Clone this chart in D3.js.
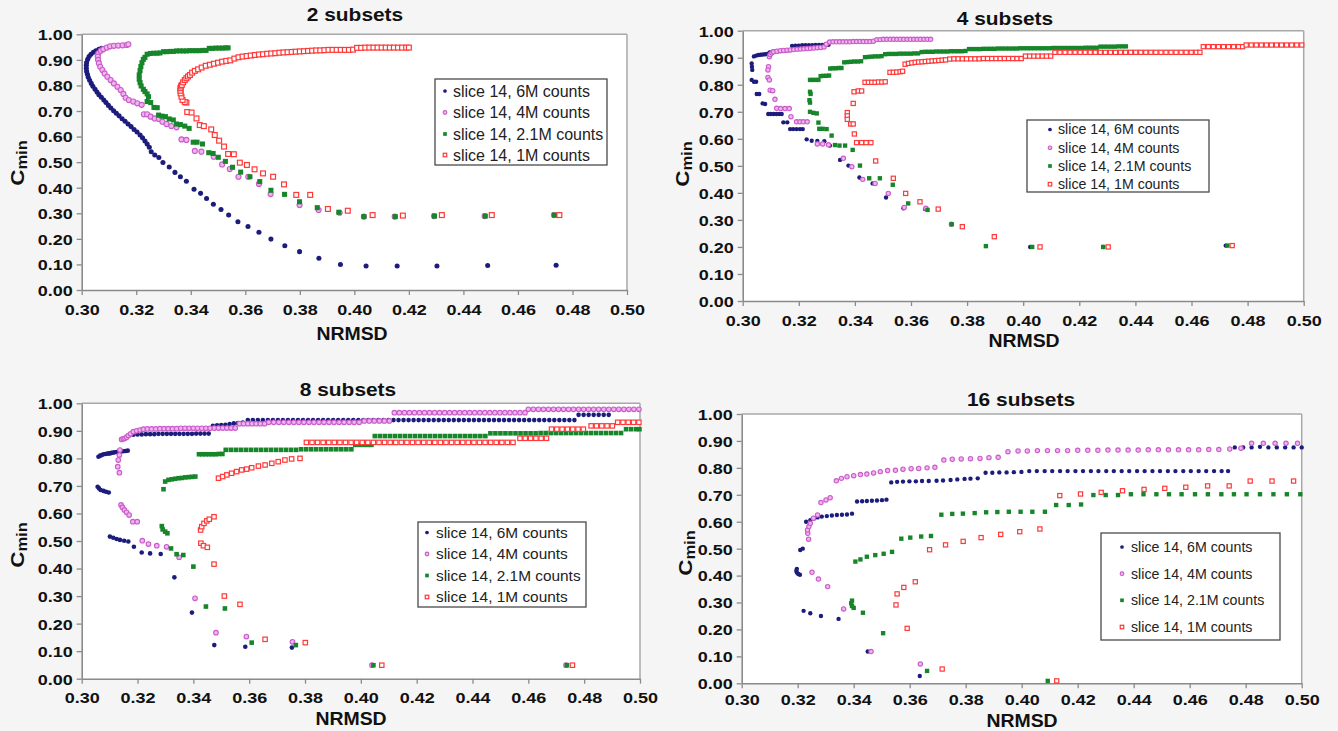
<!DOCTYPE html>
<html><head><meta charset="utf-8">
<script src="https://cdn.jsdelivr.net/npm/d3@7/dist/d3.min.js"></script>
<style>body{margin:0;background:#f5f5f5}svg{display:block}</style>
</head><body><svg id="c" width="1338" height="731"></svg>
<script>
const titles = ["2 subsets", "4 subsets", "8 subsets", "16 subsets"];
const seriesNames = ["slice 14, 6M counts", "slice 14, 4M counts", "slice 14, 2.1M counts", "slice 14, 1M counts"];
const xTickValues = [0.30,0.32,0.34,0.36,0.38,0.40,0.42,0.44,0.46,0.48,0.50];
const yTickValues = [0.0,0.1,0.2,0.3,0.4,0.5,0.6,0.7,0.8,0.9,1.0];
const xLabel = "NRMSD";

// ---------- 2 subsets ----------
const p1_6M = [[0.3073,0.945],[0.3063,0.941],[0.3052,0.936],[0.3043,0.930],[0.3034,0.922],[0.3027,0.913],[0.3022,0.902],[0.3018,0.890],[0.3017,0.879],[0.3017,0.867],[0.3018,0.855],[0.3021,0.844],[0.3024,0.832],[0.3029,0.820],[0.3035,0.808],[0.3041,0.797],[0.3049,0.785],[0.3056,0.774],[0.3063,0.764],[0.3072,0.754],[0.3081,0.743],[0.3089,0.733],[0.3098,0.722],[0.3107,0.712],[0.3117,0.701],[0.3127,0.691],[0.3137,0.681],[0.3148,0.670],[0.3159,0.660],[0.3170,0.649],[0.3181,0.639],[0.3192,0.628],[0.3203,0.618],[0.3214,0.606],[0.3223,0.595],[0.3232,0.583],[0.3240,0.571],[0.3248,0.558],[0.3255,0.541],[0.3268,0.528],[0.3283,0.518],[0.3298,0.499],[0.3321,0.481],[0.3342,0.460],[0.3362,0.443],[0.3384,0.425],[0.3412,0.394],[0.3436,0.378],[0.3458,0.358],[0.3483,0.335],[0.3511,0.315],[0.3539,0.293],[0.3573,0.267],[0.3610,0.248],[0.3650,0.226],[0.3694,0.199],[0.3745,0.173],[0.3799,0.150],[0.3870,0.124],[0.3949,0.100],[0.4043,0.094],[0.4157,0.094],[0.4303,0.094],[0.4489,0.096],[0.4740,0.097]];
const p1_4M = [[0.3061,0.926],[0.3070,0.936],[0.3079,0.942],[0.3092,0.948],[0.3104,0.953],[0.3118,0.955],[0.3134,0.956],[0.3150,0.957],[0.3165,0.958],[0.3171,0.961],[0.3059,0.913],[0.3060,0.900],[0.3063,0.887],[0.3068,0.873],[0.3076,0.860],[0.3084,0.847],[0.3094,0.834],[0.3106,0.821],[0.3118,0.808],[0.3131,0.795],[0.3143,0.782],[0.3153,0.767],[0.3161,0.752],[0.3173,0.743],[0.3189,0.737],[0.3204,0.730],[0.3220,0.724],[0.3228,0.687],[0.3240,0.687],[0.3253,0.678],[0.3268,0.671],[0.3283,0.669],[0.3296,0.658],[0.3311,0.649],[0.3329,0.641],[0.3348,0.636],[0.3366,0.589],[0.3384,0.587],[0.3415,0.544],[0.3439,0.541],[0.3484,0.521],[0.3515,0.491],[0.3543,0.473],[0.3575,0.443],[0.3611,0.443],[0.3650,0.415],[0.3693,0.375],[0.3799,0.332],[0.3869,0.313],[0.3946,0.302],[0.4035,0.287],[0.4148,0.287],[0.4292,0.289],[0.4478,0.289],[0.4732,0.293]];
const p1_21M = [[0.3240,0.922],[0.3252,0.925],[0.3264,0.926],[0.3276,0.926],[0.3287,0.927],[0.3300,0.932],[0.3312,0.932],[0.3324,0.933],[0.3336,0.933],[0.3348,0.935],[0.3360,0.935],[0.3372,0.935],[0.3384,0.935],[0.3396,0.936],[0.3408,0.936],[0.3420,0.936],[0.3432,0.936],[0.3444,0.937],[0.3456,0.937],[0.3468,0.945],[0.3480,0.945],[0.3492,0.946],[0.3504,0.946],[0.3516,0.946],[0.3528,0.947],[0.3537,0.947],[0.3232,0.910],[0.3226,0.902],[0.3221,0.889],[0.3217,0.874],[0.3214,0.858],[0.3211,0.841],[0.3211,0.824],[0.3214,0.811],[0.3218,0.798],[0.3226,0.785],[0.3232,0.776],[0.3240,0.767],[0.3245,0.756],[0.3240,0.737],[0.3253,0.733],[0.3265,0.714],[0.3277,0.713],[0.3282,0.684],[0.3294,0.680],[0.3307,0.678],[0.3321,0.669],[0.3336,0.665],[0.3348,0.649],[0.3362,0.647],[0.3378,0.641],[0.3394,0.632],[0.3409,0.578],[0.3423,0.578],[0.3443,0.571],[0.3466,0.537],[0.3482,0.534],[0.3501,0.519],[0.3527,0.503],[0.3553,0.480],[0.3583,0.461],[0.3617,0.443],[0.3653,0.424],[0.3694,0.390],[0.3744,0.374],[0.3799,0.345],[0.3864,0.322],[0.3943,0.304],[0.4035,0.287],[0.4150,0.287],[0.4294,0.289],[0.4480,0.289],[0.4734,0.293]];
const p1_1M = [[0.3384,0.733],[0.3378,0.735],[0.3370,0.743],[0.3366,0.756],[0.3363,0.769],[0.3362,0.779],[0.3362,0.789],[0.3364,0.796],[0.3367,0.802],[0.3372,0.812],[0.3378,0.821],[0.3384,0.828],[0.3390,0.835],[0.3397,0.841],[0.3405,0.850],[0.3415,0.857],[0.3427,0.863],[0.3440,0.870],[0.3455,0.877],[0.3470,0.881],[0.3485,0.885],[0.3500,0.889],[0.3515,0.893],[0.3530,0.896],[0.3545,0.898],[0.3560,0.905],[0.3575,0.910],[0.3590,0.913],[0.3605,0.915],[0.3620,0.917],[0.3635,0.919],[0.3650,0.921],[0.3665,0.922],[0.3680,0.924],[0.3695,0.925],[0.3710,0.926],[0.3725,0.928],[0.3740,0.929],[0.3755,0.930],[0.3770,0.931],[0.3785,0.932],[0.3800,0.933],[0.3815,0.934],[0.3830,0.935],[0.3845,0.936],[0.3860,0.937],[0.3875,0.937],[0.3890,0.938],[0.3905,0.939],[0.3920,0.939],[0.3935,0.939],[0.3950,0.939],[0.3965,0.939],[0.3980,0.939],[0.3995,0.940],[0.4010,0.947],[0.4025,0.947],[0.4040,0.948],[0.4055,0.948],[0.4070,0.948],[0.4085,0.948],[0.4100,0.948],[0.4115,0.948],[0.4130,0.948],[0.4145,0.948],[0.4160,0.948],[0.4175,0.948],[0.4190,0.948],[0.4200,0.948],[0.3387,0.696],[0.3403,0.694],[0.3421,0.671],[0.3433,0.645],[0.3448,0.641],[0.3475,0.628],[0.3488,0.606],[0.3504,0.584],[0.3522,0.561],[0.3537,0.532],[0.3558,0.531],[0.3580,0.498],[0.3606,0.489],[0.3634,0.472],[0.3665,0.456],[0.3702,0.443],[0.3742,0.413],[0.3787,0.372],[0.3838,0.372],[0.3903,0.317],[0.3976,0.310],[0.4067,0.293],[0.4178,0.291],[0.4321,0.293],[0.4504,0.293],[0.4752,0.293]];

// ---------- 4 subsets ----------
const p2_6M = [[0.3040,0.905],[0.3048,0.908],[0.3056,0.910],[0.3064,0.911],[0.3072,0.912],[0.3080,0.913],[0.3088,0.914],[0.3096,0.920],[0.3106,0.922],[0.3116,0.923],[0.3126,0.924],[0.3136,0.925],[0.3146,0.926],[0.3156,0.927],[0.3166,0.928],[0.3176,0.944],[0.3188,0.945],[0.3200,0.945],[0.3212,0.946],[0.3224,0.946],[0.3236,0.946],[0.3248,0.946],[0.3260,0.947],[0.3272,0.947],[0.3284,0.947],[0.3296,0.948],[0.3306,0.948],[0.3032,0.879],[0.3033,0.867],[0.3034,0.855],[0.3032,0.818],[0.3040,0.811],[0.3048,0.811],[0.3050,0.766],[0.3059,0.766],[0.3071,0.731],[0.3080,0.729],[0.3091,0.692],[0.3100,0.692],[0.3110,0.692],[0.3120,0.692],[0.3130,0.692],[0.3139,0.692],[0.3145,0.661],[0.3159,0.661],[0.3169,0.636],[0.3180,0.636],[0.3192,0.636],[0.3204,0.636],[0.3214,0.636],[0.3228,0.598],[0.3246,0.593],[0.3266,0.592],[0.3291,0.591],[0.3311,0.575],[0.3347,0.522],[0.3377,0.501],[0.3416,0.457],[0.3463,0.435],[0.3511,0.383],[0.3573,0.343],[0.3650,0.340],[0.4025,0.200],[0.4285,0.200],[0.4722,0.205]];
const p2_4M = [[0.3095,0.904],[0.3098,0.912],[0.3104,0.918],[0.3110,0.922],[0.3122,0.924],[0.3134,0.926],[0.3146,0.927],[0.3158,0.928],[0.3170,0.929],[0.3182,0.930],[0.3194,0.931],[0.3206,0.932],[0.3218,0.933],[0.3230,0.934],[0.3242,0.935],[0.3254,0.936],[0.3266,0.937],[0.3278,0.938],[0.3290,0.940],[0.3298,0.950],[0.3310,0.958],[0.3322,0.959],[0.3334,0.959],[0.3346,0.959],[0.3358,0.959],[0.3370,0.959],[0.3382,0.959],[0.3394,0.960],[0.3406,0.960],[0.3418,0.960],[0.3430,0.960],[0.3442,0.960],[0.3454,0.960],[0.3466,0.961],[0.3478,0.967],[0.3490,0.967],[0.3502,0.968],[0.3514,0.968],[0.3526,0.968],[0.3538,0.968],[0.3550,0.968],[0.3562,0.968],[0.3574,0.968],[0.3586,0.968],[0.3598,0.968],[0.3610,0.968],[0.3622,0.968],[0.3634,0.968],[0.3646,0.968],[0.3658,0.968],[0.3670,0.968],[0.3092,0.867],[0.3090,0.855],[0.3090,0.827],[0.3095,0.818],[0.3098,0.780],[0.3107,0.778],[0.3115,0.746],[0.3121,0.713],[0.3135,0.712],[0.3151,0.712],[0.3166,0.712],[0.3172,0.682],[0.3192,0.663],[0.3204,0.663],[0.3216,0.663],[0.3230,0.663],[0.3266,0.581],[0.3285,0.581],[0.3306,0.578],[0.3359,0.528],[0.3389,0.497],[0.3428,0.450],[0.3472,0.435],[0.3519,0.398],[0.3576,0.346],[0.3653,0.343],[0.3744,0.284]];
const p2_21M = [[0.3240,0.818],[0.3250,0.818],[0.3260,0.818],[0.3270,0.818],[0.3278,0.832],[0.3288,0.833],[0.3298,0.833],[0.3308,0.834],[0.3312,0.860],[0.3322,0.861],[0.3332,0.861],[0.3342,0.862],[0.3352,0.862],[0.3362,0.883],[0.3374,0.884],[0.3386,0.885],[0.3398,0.886],[0.3410,0.886],[0.3422,0.887],[0.3436,0.902],[0.3448,0.903],[0.3460,0.904],[0.3472,0.905],[0.3484,0.905],[0.3495,0.906],[0.3508,0.913],[0.3521,0.914],[0.3534,0.914],[0.3547,0.914],[0.3560,0.915],[0.3573,0.915],[0.3586,0.915],[0.3599,0.915],[0.3612,0.916],[0.3625,0.916],[0.3638,0.921],[0.3651,0.922],[0.3664,0.922],[0.3677,0.922],[0.3690,0.923],[0.3703,0.923],[0.3716,0.923],[0.3729,0.923],[0.3742,0.924],[0.3755,0.924],[0.3768,0.924],[0.3781,0.924],[0.3794,0.925],[0.3807,0.932],[0.3820,0.932],[0.3833,0.932],[0.3846,0.932],[0.3859,0.933],[0.3872,0.933],[0.3885,0.933],[0.3898,0.933],[0.3911,0.934],[0.3924,0.934],[0.3937,0.934],[0.3950,0.934],[0.3963,0.934],[0.3976,0.934],[0.3989,0.935],[0.4002,0.935],[0.4015,0.935],[0.4028,0.935],[0.4041,0.935],[0.4054,0.935],[0.4067,0.935],[0.4080,0.935],[0.4093,0.935],[0.4106,0.936],[0.4119,0.936],[0.4132,0.936],[0.4145,0.936],[0.4158,0.936],[0.4171,0.936],[0.4184,0.936],[0.4197,0.936],[0.4210,0.936],[0.4223,0.937],[0.4236,0.937],[0.4249,0.937],[0.4262,0.937],[0.4275,0.941],[0.4288,0.941],[0.4301,0.941],[0.4314,0.941],[0.4327,0.941],[0.4340,0.942],[0.4353,0.942],[0.4366,0.942],[0.3240,0.774],[0.3242,0.766],[0.3238,0.743],[0.3240,0.734],[0.3240,0.700],[0.3252,0.696],[0.3264,0.694],[0.3270,0.660],[0.3273,0.637],[0.3285,0.637],[0.3299,0.636],[0.3317,0.612],[0.3329,0.577],[0.3345,0.575],[0.3365,0.575],[0.3392,0.559],[0.3418,0.501],[0.3451,0.454],[0.3489,0.454],[0.3535,0.430],[0.3590,0.361],[0.3659,0.337],[0.3745,0.284],[0.3867,0.203],[0.4032,0.200],[0.4285,0.200],[0.4728,0.205]];
const p2_1M = [[0.3373,0.697],[0.3373,0.685],[0.3373,0.672],[0.3385,0.655],[0.3394,0.655],[0.3398,0.618],[0.3394,0.731],[0.3397,0.774],[0.3412,0.777],[0.3424,0.777],[0.3436,0.809],[0.3448,0.809],[0.3460,0.809],[0.3472,0.809],[0.3484,0.810],[0.3496,0.810],[0.3508,0.811],[0.3525,0.846],[0.3537,0.846],[0.3549,0.847],[0.3561,0.848],[0.3570,0.850],[0.3579,0.876],[0.3591,0.879],[0.3603,0.881],[0.3615,0.883],[0.3627,0.884],[0.3639,0.885],[0.3651,0.886],[0.3663,0.887],[0.3675,0.888],[0.3687,0.889],[0.3699,0.890],[0.3711,0.891],[0.3723,0.892],[0.3738,0.895],[0.3753,0.896],[0.3768,0.896],[0.3783,0.896],[0.3798,0.896],[0.3813,0.896],[0.3828,0.896],[0.3843,0.896],[0.3858,0.897],[0.3873,0.897],[0.3888,0.897],[0.3903,0.897],[0.3918,0.897],[0.3933,0.897],[0.3948,0.897],[0.3963,0.897],[0.3978,0.897],[0.3993,0.897],[0.4008,0.906],[0.4023,0.906],[0.4038,0.906],[0.4053,0.906],[0.4068,0.906],[0.4083,0.906],[0.4098,0.906],[0.4113,0.920],[0.4131,0.920],[0.4149,0.920],[0.4167,0.920],[0.4185,0.920],[0.4203,0.920],[0.4221,0.920],[0.4239,0.920],[0.4257,0.920],[0.4275,0.920],[0.4293,0.920],[0.4311,0.920],[0.4329,0.920],[0.4347,0.920],[0.4365,0.920],[0.4383,0.920],[0.4401,0.920],[0.4419,0.920],[0.4437,0.920],[0.4455,0.920],[0.4473,0.920],[0.4491,0.920],[0.4509,0.920],[0.4527,0.920],[0.4545,0.920],[0.4563,0.920],[0.4581,0.920],[0.4599,0.920],[0.4617,0.920],[0.4630,0.920],[0.4642,0.941],[0.4660,0.941],[0.4678,0.941],[0.4696,0.941],[0.4714,0.941],[0.4732,0.941],[0.4750,0.941],[0.4768,0.941],[0.4782,0.941],[0.4795,0.947],[0.4813,0.947],[0.4831,0.947],[0.4849,0.947],[0.4867,0.947],[0.4885,0.947],[0.4903,0.947],[0.4921,0.947],[0.4939,0.947],[0.4957,0.947],[0.4975,0.947],[0.4993,0.947],[0.3406,0.586],[0.3424,0.586],[0.3440,0.586],[0.3457,0.586],[0.3474,0.518],[0.3537,0.454],[0.3581,0.398],[0.3632,0.367],[0.3697,0.340],[0.3783,0.275],[0.3897,0.238],[0.4060,0.200],[0.4303,0.200],[0.4745,0.205]];

// ---------- 8 subsets ----------
const p3_6M = [[0.3060,0.806],[0.3066,0.810],[0.3072,0.812],[0.3078,0.815],[0.3084,0.816],[0.3090,0.817],[0.3096,0.818],[0.3101,0.818],[0.3107,0.820],[0.3113,0.821],[0.3119,0.822],[0.3125,0.823],[0.3131,0.824],[0.3137,0.825],[0.3143,0.826],[0.3149,0.826],[0.3157,0.827],[0.3165,0.828],[0.3057,0.697],[0.3062,0.691],[0.3068,0.685],[0.3078,0.682],[0.3087,0.679],[0.3097,0.676],[0.3101,0.516],[0.3113,0.512],[0.3125,0.507],[0.3137,0.504],[0.3152,0.501],[0.3167,0.498],[0.3187,0.479],[0.3215,0.458],[0.3245,0.455],[0.3283,0.453],[0.3332,0.368],[0.3395,0.240],[0.3475,0.122],[0.3586,0.116],[0.3753,0.113],[0.4040,0.049],[0.4735,0.049],[0.3170,0.884],[0.3185,0.886],[0.3200,0.887],[0.3215,0.887],[0.3230,0.888],[0.3245,0.888],[0.3260,0.888],[0.3275,0.889],[0.3290,0.889],[0.3305,0.889],[0.3320,0.889],[0.3335,0.889],[0.3350,0.889],[0.3365,0.889],[0.3380,0.889],[0.3395,0.889],[0.3410,0.890],[0.3425,0.890],[0.3440,0.890],[0.3455,0.890],[0.3470,0.918],[0.3485,0.920],[0.3500,0.921],[0.3515,0.922],[0.3530,0.925],[0.3545,0.927],[0.3560,0.928],[0.3577,0.930],[0.3595,0.939],[0.3613,0.939],[0.3631,0.939],[0.3649,0.939],[0.3667,0.939],[0.3685,0.939],[0.3703,0.939],[0.3721,0.939],[0.3739,0.939],[0.3757,0.939],[0.3775,0.939],[0.3793,0.939],[0.3811,0.939],[0.3829,0.939],[0.3847,0.939],[0.3865,0.939],[0.3883,0.939],[0.3901,0.939],[0.3919,0.939],[0.3937,0.939],[0.3955,0.939],[0.3973,0.939],[0.3991,0.939],[0.4009,0.939],[0.4027,0.939],[0.4045,0.939],[0.4063,0.939],[0.4081,0.939],[0.4099,0.939],[0.4117,0.939],[0.4135,0.939],[0.4153,0.939],[0.4171,0.939],[0.4189,0.939],[0.4207,0.939],[0.4225,0.939],[0.4243,0.939],[0.4261,0.939],[0.4279,0.939],[0.4297,0.939],[0.4315,0.939],[0.4333,0.939],[0.4351,0.939],[0.4369,0.939],[0.4387,0.939],[0.4405,0.939],[0.4423,0.939],[0.4441,0.939],[0.4459,0.939],[0.4477,0.939],[0.4495,0.939],[0.4513,0.939],[0.4531,0.939],[0.4549,0.939],[0.4567,0.939],[0.4585,0.939],[0.4603,0.939],[0.4621,0.939],[0.4639,0.939],[0.4657,0.939],[0.4675,0.939],[0.4693,0.939],[0.4711,0.939],[0.4729,0.939],[0.4747,0.939],[0.4765,0.939],[0.4780,0.958],[0.4798,0.958],[0.4816,0.958],[0.4834,0.958],[0.4852,0.958],[0.4870,0.958],[0.4888,0.958]];
const p3_4M = [[0.3143,0.869],[0.3149,0.871],[0.3155,0.873],[0.3161,0.877],[0.3167,0.883],[0.3175,0.889],[0.3185,0.897],[0.3197,0.900],[0.3209,0.903],[0.3221,0.906],[0.3235,0.907],[0.3250,0.907],[0.3265,0.907],[0.3280,0.908],[0.3295,0.908],[0.3310,0.908],[0.3325,0.908],[0.3340,0.908],[0.3355,0.909],[0.3370,0.909],[0.3385,0.909],[0.3400,0.909],[0.3415,0.909],[0.3430,0.909],[0.3445,0.909],[0.3460,0.909],[0.3475,0.910],[0.3490,0.910],[0.3505,0.910],[0.3520,0.910],[0.3535,0.910],[0.3550,0.910],[0.3565,0.926],[0.3580,0.926],[0.3595,0.926],[0.3610,0.926],[0.3625,0.926],[0.3640,0.926],[0.3655,0.926],[0.3670,0.931],[0.3688,0.931],[0.3706,0.931],[0.3724,0.931],[0.3742,0.931],[0.3760,0.931],[0.3778,0.931],[0.3796,0.931],[0.3814,0.931],[0.3832,0.931],[0.3850,0.931],[0.3868,0.931],[0.3886,0.931],[0.3904,0.931],[0.3922,0.931],[0.3940,0.931],[0.3958,0.931],[0.3976,0.931],[0.3994,0.931],[0.4012,0.936],[0.4030,0.936],[0.4048,0.936],[0.4066,0.936],[0.4084,0.936],[0.4102,0.936],[0.4120,0.966],[0.4138,0.966],[0.4156,0.966],[0.4174,0.966],[0.4192,0.966],[0.4210,0.966],[0.4228,0.966],[0.4246,0.966],[0.4264,0.966],[0.4282,0.966],[0.4300,0.966],[0.4318,0.966],[0.4336,0.966],[0.4354,0.966],[0.4372,0.966],[0.4390,0.966],[0.4408,0.966],[0.4426,0.966],[0.4444,0.966],[0.4462,0.966],[0.4480,0.966],[0.4498,0.966],[0.4516,0.966],[0.4534,0.966],[0.4552,0.966],[0.4570,0.966],[0.4588,0.966],[0.4600,0.978],[0.4618,0.978],[0.4636,0.978],[0.4654,0.978],[0.4672,0.978],[0.4690,0.978],[0.4708,0.978],[0.4726,0.978],[0.4744,0.978],[0.4762,0.978],[0.4780,0.978],[0.4798,0.978],[0.4816,0.978],[0.4834,0.978],[0.4852,0.978],[0.4870,0.978],[0.4888,0.978],[0.4906,0.978],[0.4924,0.978],[0.4942,0.978],[0.4960,0.978],[0.4978,0.978],[0.4996,0.978],[0.3137,0.830],[0.3135,0.812],[0.3131,0.794],[0.3129,0.770],[0.3135,0.748],[0.3141,0.631],[0.3146,0.622],[0.3153,0.613],[0.3161,0.604],[0.3170,0.594],[0.3183,0.570],[0.3199,0.570],[0.3217,0.501],[0.3239,0.489],[0.3269,0.483],[0.3304,0.479],[0.3349,0.441],[0.3406,0.292],[0.3481,0.167],[0.3590,0.153],[0.3755,0.134],[0.4040,0.049],[0.4735,0.049]];
const p3_21M = [[0.3293,0.688],[0.3299,0.716],[0.3311,0.722],[0.3323,0.724],[0.3335,0.726],[0.3347,0.728],[0.3359,0.729],[0.3371,0.731],[0.3383,0.732],[0.3395,0.733],[0.3407,0.734],[0.3420,0.815],[0.3432,0.815],[0.3444,0.815],[0.3456,0.815],[0.3468,0.815],[0.3480,0.815],[0.3492,0.816],[0.3504,0.816],[0.3516,0.831],[0.3534,0.831],[0.3552,0.831],[0.3570,0.831],[0.3588,0.831],[0.3606,0.831],[0.3624,0.831],[0.3642,0.831],[0.3660,0.831],[0.3678,0.831],[0.3696,0.831],[0.3714,0.831],[0.3732,0.831],[0.3750,0.831],[0.3768,0.831],[0.3786,0.833],[0.3804,0.833],[0.3822,0.833],[0.3840,0.833],[0.3858,0.833],[0.3876,0.833],[0.3894,0.833],[0.3912,0.833],[0.3930,0.833],[0.3948,0.833],[0.3966,0.833],[0.3980,0.849],[0.3995,0.849],[0.4010,0.849],[0.4025,0.849],[0.4038,0.849],[0.4050,0.881],[0.4068,0.881],[0.4086,0.881],[0.4104,0.881],[0.4122,0.881],[0.4140,0.881],[0.4158,0.881],[0.4176,0.881],[0.4194,0.881],[0.4212,0.881],[0.4230,0.881],[0.4248,0.881],[0.4266,0.881],[0.4284,0.881],[0.4302,0.881],[0.4320,0.881],[0.4338,0.881],[0.4356,0.881],[0.4374,0.881],[0.4392,0.881],[0.4410,0.881],[0.4428,0.881],[0.4446,0.881],[0.4464,0.891],[0.4482,0.891],[0.4500,0.891],[0.4518,0.891],[0.4536,0.891],[0.4554,0.891],[0.4572,0.891],[0.4590,0.891],[0.4608,0.891],[0.4626,0.891],[0.4644,0.892],[0.4662,0.892],[0.4680,0.892],[0.4698,0.892],[0.4716,0.892],[0.4734,0.892],[0.4752,0.892],[0.4770,0.892],[0.4788,0.892],[0.4806,0.892],[0.4824,0.892],[0.4842,0.892],[0.4860,0.892],[0.4878,0.892],[0.4896,0.892],[0.4914,0.892],[0.4932,0.892],[0.4950,0.906],[0.4968,0.906],[0.4986,0.906],[0.4998,0.906],[0.3287,0.554],[0.3290,0.542],[0.3299,0.534],[0.3307,0.528],[0.3320,0.473],[0.3340,0.452],[0.3364,0.449],[0.3400,0.407],[0.3445,0.262],[0.3513,0.255],[0.3609,0.131],[0.3767,0.122],[0.4045,0.049],[0.4738,0.049]];
const p3_1M = [[0.3426,0.540],[0.3430,0.552],[0.3438,0.564],[0.3448,0.573],[0.3457,0.579],[0.3474,0.588],[0.3427,0.492],[0.3436,0.483],[0.3450,0.477],[0.3474,0.416],[0.3511,0.300],[0.3567,0.270],[0.3657,0.143],[0.3801,0.131],[0.4075,0.049],[0.4758,0.049],[0.3490,0.728],[0.3505,0.734],[0.3520,0.740],[0.3537,0.746],[0.3555,0.752],[0.3573,0.758],[0.3591,0.761],[0.3609,0.766],[0.3633,0.772],[0.3657,0.776],[0.3681,0.782],[0.3704,0.788],[0.3728,0.794],[0.3752,0.798],[0.3782,0.800],[0.3805,0.858],[0.3825,0.858],[0.3845,0.858],[0.3865,0.858],[0.3885,0.858],[0.3905,0.858],[0.3925,0.858],[0.3945,0.858],[0.3965,0.858],[0.3985,0.858],[0.4005,0.858],[0.4025,0.858],[0.4045,0.858],[0.4065,0.858],[0.4085,0.858],[0.4105,0.858],[0.4125,0.858],[0.4145,0.858],[0.4165,0.858],[0.4185,0.858],[0.4205,0.858],[0.4225,0.858],[0.4245,0.858],[0.4265,0.858],[0.4285,0.858],[0.4305,0.858],[0.4325,0.858],[0.4345,0.858],[0.4365,0.858],[0.4385,0.858],[0.4405,0.858],[0.4425,0.858],[0.4445,0.858],[0.4465,0.858],[0.4485,0.858],[0.4505,0.858],[0.4525,0.858],[0.4545,0.858],[0.4570,0.873],[0.4589,0.873],[0.4608,0.873],[0.4627,0.873],[0.4646,0.873],[0.4665,0.873],[0.4683,0.906],[0.4702,0.906],[0.4721,0.906],[0.4740,0.906],[0.4759,0.906],[0.4778,0.906],[0.4797,0.906],[0.4825,0.918],[0.4844,0.918],[0.4863,0.918],[0.4882,0.918],[0.4901,0.918],[0.4920,0.931],[0.4939,0.931],[0.4958,0.931],[0.4977,0.931],[0.4996,0.931]];

// ---------- 16 subsets ----------
const p4_6M = [[0.3197,0.425],[0.3195,0.418],[0.3197,0.411],[0.3202,0.406],[0.3208,0.403],[0.3209,0.495],[0.3218,0.500],[0.3230,0.600],[0.3245,0.606],[0.3258,0.612],[0.3271,0.616],[0.3286,0.619],[0.3304,0.621],[0.3322,0.623],[0.3340,0.625],[0.3358,0.626],[0.3376,0.627],[0.3394,0.630],[0.3412,0.675],[0.3430,0.676],[0.3447,0.677],[0.3465,0.678],[0.3483,0.679],[0.3501,0.680],[0.3517,0.682],[0.3534,0.746],[0.3555,0.748],[0.3576,0.749],[0.3599,0.750],[0.3622,0.750],[0.3644,0.751],[0.3668,0.751],[0.3696,0.752],[0.3719,0.753],[0.3746,0.755],[0.3770,0.757],[0.3796,0.759],[0.3817,0.760],[0.3843,0.761],[0.3871,0.782],[0.3895,0.782],[0.3920,0.783],[0.3946,0.783],[0.3972,0.784],[0.3999,0.785],[0.4027,0.788],[0.4054,0.788],[0.4082,0.788],[0.4109,0.788],[0.4137,0.788],[0.4164,0.788],[0.4192,0.788],[0.4219,0.788],[0.4247,0.788],[0.4274,0.788],[0.4302,0.788],[0.4329,0.788],[0.4357,0.788],[0.4384,0.788],[0.4412,0.788],[0.4439,0.788],[0.4467,0.788],[0.4494,0.788],[0.4522,0.788],[0.4549,0.788],[0.4577,0.788],[0.4604,0.788],[0.4632,0.788],[0.4659,0.788],[0.4687,0.788],[0.4714,0.788],[0.4737,0.788],[0.4761,0.876],[0.4791,0.876],[0.4821,0.876],[0.4851,0.878],[0.4881,0.876],[0.4911,0.876],[0.4941,0.876],[0.4971,0.876],[0.5000,0.876],[0.3221,0.269],[0.3245,0.260],[0.3283,0.250],[0.3346,0.239],[0.3450,0.118],[0.3636,0.027]];
const p4_4M = [[0.3251,0.412],[0.3274,0.387],[0.3307,0.359],[0.3364,0.276],[0.3462,0.118],[0.3638,0.072],[0.3239,0.535],[0.3236,0.557],[0.3235,0.569],[0.3240,0.582],[0.3245,0.594],[0.3256,0.613],[0.3271,0.625],[0.3283,0.671],[0.3301,0.681],[0.3316,0.689],[0.3338,0.752],[0.3356,0.761],[0.3376,0.767],[0.3400,0.771],[0.3424,0.775],[0.3447,0.777],[0.3471,0.781],[0.3495,0.786],[0.3521,0.790],[0.3549,0.791],[0.3576,0.795],[0.3605,0.797],[0.3632,0.798],[0.3662,0.800],[0.3690,0.802],[0.3722,0.829],[0.3752,0.832],[0.3784,0.833],[0.3817,0.834],[0.3851,0.835],[0.3883,0.838],[0.3916,0.839],[0.3951,0.860],[0.3987,0.863],[0.4020,0.863],[0.4056,0.864],[0.4092,0.864],[0.4128,0.864],[0.4164,0.864],[0.4200,0.865],[0.4236,0.865],[0.4272,0.865],[0.4308,0.866],[0.4344,0.866],[0.4380,0.866],[0.4416,0.866],[0.4452,0.867],[0.4488,0.867],[0.4524,0.867],[0.4560,0.867],[0.4596,0.867],[0.4632,0.867],[0.4668,0.868],[0.4704,0.868],[0.4743,0.870],[0.4783,0.873],[0.4821,0.891],[0.4863,0.891],[0.4905,0.891],[0.4944,0.891],[0.4985,0.891]];
const p4_21M = [[0.3394,0.307],[0.3391,0.297],[0.3394,0.287],[0.3400,0.280],[0.3433,0.262],[0.3505,0.186],[0.3662,0.046],[0.4093,0.009],[0.3406,0.452],[0.3424,0.460],[0.3447,0.470],[0.3477,0.476],[0.3507,0.481],[0.3537,0.488],[0.3570,0.537],[0.3602,0.541],[0.3641,0.545],[0.3676,0.547],[0.3713,0.626],[0.3752,0.629],[0.3790,0.630],[0.3832,0.632],[0.3873,0.635],[0.3913,0.636],[0.3954,0.637],[0.3996,0.637],[0.4038,0.637],[0.4083,0.637],[0.4123,0.662],[0.4168,0.662],[0.4212,0.664],[0.4256,0.699],[0.4300,0.699],[0.4344,0.699],[0.4390,0.702],[0.4435,0.702],[0.4481,0.702],[0.4526,0.702],[0.4571,0.702],[0.4619,0.702],[0.4665,0.702],[0.4713,0.702],[0.4758,0.702],[0.4803,0.702],[0.4851,0.702],[0.4899,0.702],[0.4947,0.702],[0.4995,0.702]];
const p4_1M = [[0.3551,0.291],[0.3555,0.332],[0.3579,0.356],[0.3620,0.377],[0.3591,0.204],[0.3716,0.053],[0.4125,0.009],[0.3671,0.496],[0.3728,0.514],[0.3791,0.527],[0.3855,0.541],[0.3925,0.553],[0.3993,0.563],[0.4065,0.573],[0.4136,0.697],[0.4210,0.703],[0.4284,0.709],[0.4360,0.715],[0.4437,0.720],[0.4511,0.724],[0.4586,0.728],[0.4664,0.733],[0.4741,0.733],[0.4816,0.751],[0.4894,0.751],[0.4971,0.751]];

// ---------- layout (pixels) ----------
const FONT = "'Liberation Sans', Arial, Helvetica, sans-serif";
const panels = [
  {title: titles[0], series: [p1_6M, p1_4M, p1_21M, p1_1M], l: 81.7, r: 627, t: 34.3, b: 290, mk: 1.1, tickY: 25,
   titleX: 355, titleY: 21, labX: 352, labY: 340, cX: 24, cY: 163,
   leg: {x: 435, y: 79, w: 172, h: 86, rows: [91, 112.5, 134, 155], mx: 445, tx: 453, fs: 16}},
  {title: titles[1], series: [p2_6M, p2_4M, p2_21M, p2_1M], l: 742.7, r: 1303.7, t: 30.7, b: 301, mk: 0.95, tickY: 25,
   titleX: 1005, titleY: 25, labX: 1024, labY: 347, cX: 689, cY: 164,
   leg: {x: 1027, y: 120, w: 182, h: 72, rows: [129.5, 147.8, 166, 184.2], mx: 1050, tx: 1058, fs: 14.2}},
  {title: titles[2], series: [p3_6M, p3_4M, p3_21M, p3_1M], l: 81.7, r: 640, t: 403.3, b: 678.7, mk: 1.0, tickY: 24,
   titleX: 348, titleY: 396, labX: 351, labY: 725, cX: 24, cY: 545,
   leg: {x: 418, y: 522, w: 168, h: 85, rows: [532.5, 554, 575.5, 597], mx: 427, tx: 436, fs: 15.4}},
  {title: titles[3], series: [p4_6M, p4_4M, p4_21M, p4_1M], l: 741.7, r: 1301.7, t: 414, b: 683.3, mk: 0.95, tickY: 21.5,
   titleX: 1021, titleY: 406, labX: 1022, labY: 727, cX: 692, cY: 553,
   leg: {x: 1101, y: 533, w: 179, h: 107, rows: [547, 573.7, 600.3, 627], mx: 1122, tx: 1131, fs: 14.2}}
];

const styles = [
  {kind: "dot", fill: "#1c1c7c"},
  {kind: "ring", fill: "#efb4ef", stroke: "#c95cc9"},
  {kind: "sq", fill: "#17862a"},
  {kind: "osq", fill: "#ffffff", stroke: "#ff3838"}
];

function drawMarker(g, kind, cx, cy, s) {
  const st = styles[kind];
  if (st.kind === "dot") {
    g.append("circle").attr("cx", cx).attr("cy", cy).attr("r", 2.3 * s).attr("fill", st.fill);
  } else if (st.kind === "ring") {
    g.append("circle").attr("cx", cx).attr("cy", cy).attr("r", 2.3 * s).attr("fill", st.fill)
      .attr("stroke", st.stroke).attr("stroke-width", 1.1);
  } else if (st.kind === "sq") {
    const w = 4.6 * s;
    g.append("rect").attr("x", cx - w / 2).attr("y", cy - w / 2).attr("width", w).attr("height", w).attr("fill", st.fill);
  } else {
    const w = 4.4 * s;
    g.append("rect").attr("x", cx - w / 2).attr("y", cy - w / 2).attr("width", w).attr("height", w)
      .attr("fill", st.fill).attr("stroke", st.stroke).attr("stroke-width", 1.2);
  }
}

const svg = d3.select("#c");
svg.append("rect").attr("width", 1338).attr("height", 731).attr("fill", "#f5f5f5");

function stretchText(g, x, y, str, size, weight, anchor, sx, rot) {
  return g.append("text")
    .attr("transform", `translate(${x},${y})` + (rot ? ` rotate(${rot})` : "") + ` scale(${sx},1)`)
    .attr("text-anchor", anchor).attr("font-family", FONT).attr("font-size", size)
    .attr("font-weight", weight).attr("fill", "#111").text(str);
}

panels.forEach(p => {
  const g = svg.append("g");
  const x = d3.scaleLinear().domain([xTickValues[0], xTickValues[xTickValues.length - 1]]).range([p.l, p.r]);
  const y = d3.scaleLinear().domain([yTickValues[0], yTickValues[yTickValues.length - 1]]).range([p.b, p.t]);

  g.append("rect").attr("x", p.l).attr("y", p.t).attr("width", p.r - p.l).attr("height", p.b - p.t).attr("fill", "#ffffff");
  g.append("line").attr("x1", p.l).attr("x2", p.r).attr("y1", p.t).attr("y2", p.t).attr("stroke", "#a8a8a8").attr("stroke-width", 1.5);
  g.append("line").attr("x1", p.r).attr("x2", p.r).attr("y1", p.t).attr("y2", p.b).attr("stroke", "#a8a8a8").attr("stroke-width", 1.5);

  const gx = g.append("g").attr("transform", `translate(0,${p.b})`)
    .call(d3.axisBottom(x).tickValues(xTickValues).tickSize(5).tickSizeOuter(0).tickFormat(d3.format(".2f")));
  gx.select(".domain").attr("stroke", "#8a8a8a").attr("stroke-width", 1.6);
  gx.selectAll(".tick line").attr("stroke", "#8a8a8a").attr("stroke-width", 1.3);
  gx.selectAll(".tick text").attr("y", p.tickY).attr("dy", null).attr("transform", "scale(1.2,1)")
    .attr("font-family", FONT).attr("font-size", 15).attr("font-weight", "bold").attr("fill", "#111");

  const gy = g.append("g").attr("transform", `translate(${p.l},0)`)
    .call(d3.axisLeft(y).tickValues(yTickValues).tickSize(5).tickSizeOuter(0).tickFormat(d3.format(".2f")));
  gy.select(".domain").attr("stroke", "#8a8a8a").attr("stroke-width", 1.6);
  gy.selectAll(".tick line").attr("stroke", "#8a8a8a").attr("stroke-width", 1.3);
  gy.selectAll(".tick text").attr("x", -7.5).attr("dy", "0.36em").attr("transform", "scale(1.2,1)")
    .attr("font-family", FONT).attr("font-size", 15).attr("font-weight", "bold").attr("fill", "#111");

  // markers
  const gm = g.append("g");
  p.series.forEach((data, k) => {
    data.forEach(d => drawMarker(gm, k, x(d[0]), y(d[1]), p.mk));
  });

  // title and axis labels
  stretchText(g, p.titleX, p.titleY, p.title, 19, "bold", "middle", 1.1);
  stretchText(g, p.labX, p.labY, xLabel, 18, "bold", "middle", 1.08);
  const ct = g.append("text")
    .attr("transform", `translate(${p.cX},${p.cY}) rotate(-90) scale(1.18,1)`)
    .attr("text-anchor", "middle").attr("font-family", FONT).attr("font-weight", "bold").attr("fill", "#111");
  ct.append("tspan").attr("font-size", 19).text("C");
  ct.append("tspan").attr("font-size", 14).attr("dy", 3).text("min");

  // legend
  const L = p.leg;
  g.append("rect").attr("x", L.x).attr("y", L.y).attr("width", L.w).attr("height", L.h)
    .attr("fill", "#ffffff").attr("stroke", "#4a4a4a").attr("stroke-width", 1.3);
  seriesNames.forEach((name, k) => {
    drawMarker(g, k, L.mx, L.rows[k], 0.8);
    g.append("text").attr("x", L.tx).attr("y", L.rows[k]).attr("dy", "0.35em")
      .attr("font-family", FONT).attr("font-size", L.fs).attr("fill", "#222").text(name);
  });
});
</script>
</body></html>
